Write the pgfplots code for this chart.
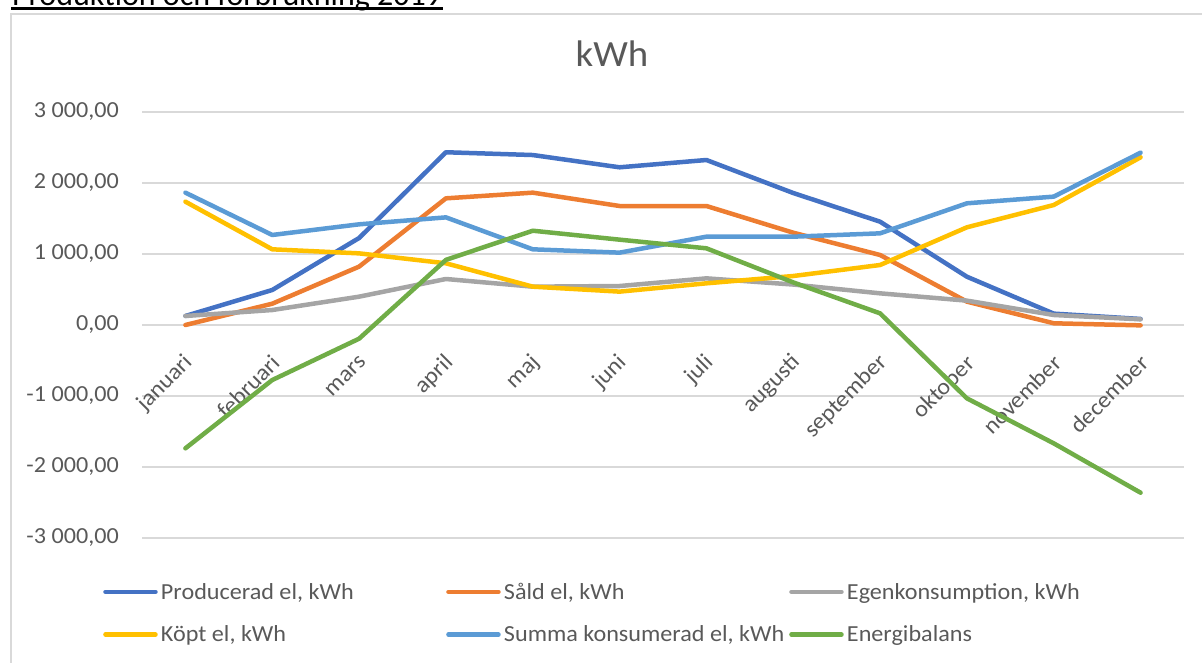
\documentclass[border=0pt]{standalone}
\usepackage{fontspec}
\setmainfont{Carlito}[FakeStretch=1.05]
\newfontfamily\docfont{Carlito}
\usepackage{pgfplots}
\pgfplotsset{compat=1.18}
\definecolor{cBlue}{HTML}{4472C4}
\definecolor{cOrange}{HTML}{ED7D31}
\definecolor{cGray}{HTML}{A5A5A5}
\definecolor{cYellow}{HTML}{FFC000}
\definecolor{cLBlue}{HTML}{5B9BD5}
\definecolor{cGreen}{HTML}{70AD47}
\definecolor{txtgray}{HTML}{595959}
\definecolor{gridgray}{HTML}{D9D9D9}
\newcommand{\lt}[1]{\makebox[285pt][l]{\rule[-5pt]{0pt}{19pt}#1}}
\begin{document}
\begin{tikzpicture}
\useasboundingbox (0pt,0pt) rectangle (1202pt,662pt);
% outer chart frame
\draw[gridgray, line width=1.5pt] (11pt,-20pt) -- (11pt,648pt) -- (1230pt,648pt);
% document heading (partly cut off)
\node[anchor=base west, inner sep=0pt, font=\docfont\fontsize{32}{38}\selectfont] at (12pt,656.5pt) {Produktion och förbrukning 2019};
\draw[black, line width=3pt] (11pt,653pt) -- (443pt,653pt);
% chart title
\node[anchor=base, inner sep=0pt, text=txtgray, font=\fontsize{37}{43}\selectfont] at (612pt,595pt) {kWh};
\begin{axis}[
  at={(142pt,124pt)}, anchor=south west,
  width=1042pt, height=426pt, scale only axis,
  xmin=-0.5, xmax=11.5, ymin=-3000, ymax=3000,
  axis line style={draw=none},
  major tick length=0pt,
  ymajorgrids, grid style={gridgray, line width=1.5pt},
  ytick={-3000,-2000,-1000,0,1000,2000,3000},
  yticklabels={{-3 000,00},{-2 000,00},{-1 000,00},{0,00},{1 000,00},{2 000,00},{3 000,00}},
  yticklabel style={font=\fontsize{23}{27}\selectfont, text=txtgray, inner sep=0pt, xshift=-23pt},
  xtick={0,...,11},
  xticklabels={januari,februari,mars,april,maj,juni,juli,augusti,september,oktober,november,december},
  xticklabel style={xshift=4pt, yshift=179pt, font=\fontsize{23}{27}\selectfont, text=txtgray, rotate=45, anchor=east, inner sep=0pt},
  every axis plot/.append style={line width=4.5pt, line join=round, line cap=round},
  legend columns=3,
  legend cell align=left,
  legend image code/.code={\path[draw=none, fill=none] (0pt,-3pt) rectangle (55pt,3pt); \draw[#1, line width=4.5pt, line cap=round] (2.5pt,0pt) -- (52.5pt,0pt);},
  legend style={at={(axis description cs:-0.03743,-0.10563)}, anchor=north west, draw=none, fill=none, inner sep=0pt, outer sep=0pt, row sep=25pt, column sep=0pt, font=\fontsize{23}{27}\selectfont, text=txtgray, nodes={inner sep=0pt}, /tikz/every odd column/.append style={column sep=3pt}},
]
\addplot[cBlue] coordinates {(0,127) (1,493) (2,1225) (3,2433) (4,2394) (5,2221) (6,2324) (7,1859) (8,1455) (9,680) (10,160) (11,85)};
\addlegendentry{\lt{Producerad el, kWh}}
\addplot[cOrange] coordinates {(0,0) (1,300) (2,822) (3,1784) (4,1864) (5,1676) (6,1676) (7,1300) (8,986) (9,329) (10,24) (11,-5)};
\addlegendentry{\lt{Såld el, kWh}}
\addplot[cGray] coordinates {(0,127) (1,211) (2,399) (3,648) (4,540) (5,549) (6,657) (7,570) (8,446) (9,343) (10,141) (11,80)};
\addlegendentry{\lt{Egenkonsumption, kWh}}
\addplot[cYellow] coordinates {(0,1737) (1,1066) (2,1009) (3,869) (4,540) (5,470) (6,587) (7,690) (8,845) (9,1376) (10,1690) (11,2362)};
\addlegendentry{\lt{Köpt el, kWh}}
\addplot[cLBlue] coordinates {(0,1864) (1,1268) (2,1418) (3,1516) (4,1066) (5,1019) (6,1244) (7,1244) (8,1291) (9,1714) (10,1808) (11,2427)};
\addlegendentry{\lt{Summa konsumerad el, kWh}}
\addplot[cGreen] coordinates {(0,-1737) (1,-775) (2,-193) (3,917) (4,1328) (5,1202) (6,1080) (7,600) (8,164) (9,-1033) (10,-1667) (11,-2362)};
\addlegendentry{\lt{Energibalans}}
\end{axis}
\end{tikzpicture}
\end{document}
